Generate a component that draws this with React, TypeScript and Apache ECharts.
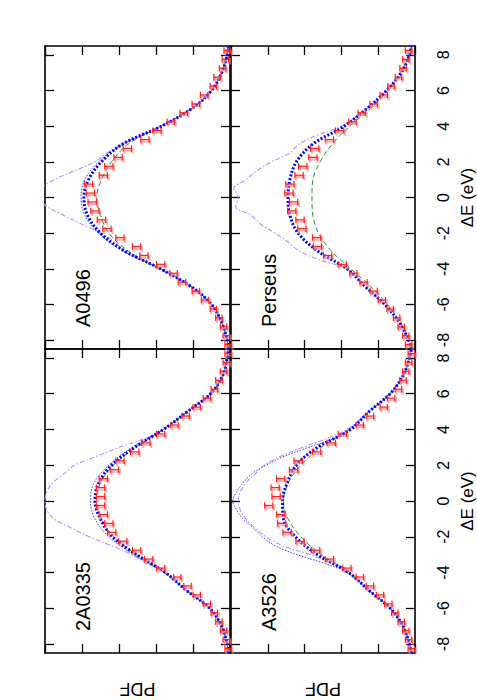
import React, { useEffect, useRef } from "react";
import * as echarts from "echarts";

// ΔE grids (eV)
const E_TICKS = [-8, -6, -4, -2, 0, 2, 4, 6, 8];
const E_INT = [-8.5, -8, -7, -6, -5, -4, -3, -2, -1, 0, 1, 2, 3, 4, 5, 6, 7, 8, 8.5];
const E_HALF = [-8.5, -8, -7, -6, -5, -4, -3.5, -3, -2.5, -2, -1.5, -1, -0.5, 0, 0.5, 1, 1.5, 2, 2.5, 3, 3.5, 4, 5, 6, 7, 8, 8.5];
const E_DATA = [-8.25, -7.75, -7.25, -6.75, -6.25, -5.75, -5.25, -4.75, -4.25, -3.75, -3.25, -2.75, -2.25, -1.75, -1.25, -0.75, -0.25,
  0.25, 0.75, 1.25, 1.75, 2.25, 2.75, 3.25, 3.75, 4.25, 4.75, 5.25, 5.75, 6.25, 6.75, 7.25, 7.75, 8.25];
const DATA_ERR = [0.0035, 0.0035, 0.0035, 0.0035, 0.0035, 0.004, 0.004, 0.004, 0.004, 0.0045, 0.0045, 0.0045, 0.0045, 0.0045, 0.0045, 0.0045, 0.0045,
  0.0045, 0.0045, 0.0045, 0.0045, 0.0045, 0.0045, 0.0045, 0.0045, 0.004, 0.004, 0.004, 0.004, 0.0035, 0.0035, 0.0035, 0.0035, 0.0035];

// PDF axis
const PDF_MAX = 0.2;
const PDF_STEP = 0.04;

// A0496
const A0496_BLUE = [0.002, 0.003, 0.009, 0.020, 0.042, 0.075, 0.114, 0.140, 0.154, 0.158, 0.153, 0.139, 0.116, 0.074, 0.041, 0.020, 0.009, 0.003, 0.002];
const A0496_BLUE_THIN = [0.002, 0.003, 0.009, 0.020, 0.042, 0.075, 0.116, 0.142, 0.157, 0.161, 0.157, 0.142, 0.116, 0.074, 0.041, 0.020, 0.009, 0.003, 0.002];
const A0496_GREEN = [0.002, 0.003, 0.009, 0.020, 0.042, 0.077, 0.110, 0.131, 0.140, 0.144, 0.139, 0.128, 0.110, 0.075, 0.041, 0.020, 0.009, 0.003, 0.002];
const A0496_PURPLE = [0.002, 0.003, 0.009, 0.020, 0.042, 0.075, 0.095, 0.115, 0.124, 0.140, 0.160, 0.180, 0.198, 0.206, 0.204, 0.190, 0.168, 0.146, 0.133, 0.115, 0.096, 0.075, 0.041, 0.020, 0.009, 0.003, 0.002];
const A0496_DATA = [0.002, 0.004, 0.007, 0.012, 0.018, 0.027, 0.037, 0.052, 0.061, 0.075, 0.093, 0.101, 0.119, 0.133, 0.139, 0.146, 0.149,
  0.151, 0.153, 0.137, 0.131, 0.121, 0.111, 0.092, 0.079, 0.064, 0.050, 0.037, 0.028, 0.018, 0.014, 0.008, 0.005, 0.003];

// Perseus
const PERSEUS_BLUE = [0.004, 0.007, 0.017, 0.033, 0.054, 0.074, 0.106, 0.127, 0.136, 0.138, 0.136, 0.129, 0.111, 0.077, 0.052, 0.031, 0.015, 0.006, 0.004];
const PERSEUS_GREEN = [0.004, 0.006, 0.016, 0.030, 0.048, 0.070, 0.091, 0.105, 0.111, 0.112, 0.111, 0.103, 0.090, 0.071, 0.048, 0.030, 0.016, 0.006, 0.004];
const PERSEUS_PURPLE = [0.004, 0.007, 0.017, 0.033, 0.054, 0.074, 0.104, 0.126, 0.138, 0.152, 0.168, 0.178, 0.195, 0.192, 0.197, 0.184, 0.172, 0.156, 0.136, 0.126, 0.106, 0.080, 0.052, 0.031, 0.015, 0.006, 0.004];
const PERSEUS_DATA = [0.007, 0.010, 0.015, 0.020, 0.027, 0.036, 0.045, 0.056, 0.067, 0.079, 0.095, 0.106, 0.107, 0.123, 0.125, 0.134, 0.132,
  0.137, 0.136, 0.126, 0.122, 0.111, 0.109, 0.093, 0.082, 0.068, 0.058, 0.045, 0.034, 0.026, 0.018, 0.013, 0.010, 0.007];

// 2A0335
const A2A0335_BLUE = [0.002, 0.003, 0.009, 0.022, 0.047, 0.070, 0.101, 0.127, 0.140, 0.146, 0.142, 0.128, 0.103, 0.072, 0.046, 0.021, 0.008, 0.003, 0.002];
const A2A0335_BLUE_THIN = [0.002, 0.003, 0.009, 0.022, 0.047, 0.071, 0.104, 0.131, 0.146, 0.151, 0.147, 0.131, 0.106, 0.072, 0.046, 0.021, 0.008, 0.003, 0.002];
const A2A0335_GREEN = [0.002, 0.003, 0.009, 0.022, 0.047, 0.071, 0.101, 0.126, 0.139, 0.144, 0.140, 0.126, 0.102, 0.072, 0.046, 0.021, 0.008, 0.003, 0.002];
const A2A0335_PURPLE = [0.002, 0.003, 0.010, 0.022, 0.047, 0.070, 0.090, 0.106, 0.128, 0.152, 0.172, 0.190, 0.198, 0.200, 0.198, 0.192, 0.180, 0.168, 0.144, 0.120, 0.092, 0.072, 0.046, 0.021, 0.008, 0.003, 0.002];
const A2A0335_DATA = [0.002, 0.004, 0.007, 0.012, 0.017, 0.025, 0.036, 0.046, 0.057, 0.075, 0.088, 0.101, 0.116, 0.128, 0.131, 0.137, 0.140,
  0.140, 0.140, 0.137, 0.125, 0.119, 0.103, 0.091, 0.075, 0.060, 0.048, 0.036, 0.025, 0.017, 0.012, 0.007, 0.004, 0.002];

// A3526
const A3526_BLUE = [0.004, 0.006, 0.013, 0.027, 0.050, 0.072, 0.106, 0.130, 0.143, 0.144, 0.139, 0.129, 0.106, 0.070, 0.050, 0.027, 0.013, 0.006, 0.004];
const A3526_GREEN = [0.004, 0.006, 0.013, 0.027, 0.050, 0.071, 0.102, 0.124, 0.138, 0.143, 0.138, 0.124, 0.102, 0.071, 0.050, 0.027, 0.013, 0.006, 0.004];
const A3526_BLUE_THIN = [0.004, 0.006, 0.013, 0.027, 0.050, 0.074, 0.098, 0.128, 0.152, 0.166, 0.176, 0.187, 0.194, 0.198, 0.194, 0.187, 0.178, 0.162, 0.142, 0.116, 0.088, 0.072, 0.050, 0.027, 0.013, 0.006, 0.004];
const A3526_PURPLE = [0.004, 0.006, 0.013, 0.027, 0.050, 0.074, 0.090, 0.114, 0.144, 0.162, 0.174, 0.184, 0.190, 0.192, 0.190, 0.184, 0.174, 0.164, 0.146, 0.122, 0.096, 0.074, 0.050, 0.027, 0.013, 0.006, 0.004];
const A3526_DATA = [0.004, 0.007, 0.010, 0.015, 0.022, 0.029, 0.038, 0.049, 0.060, 0.074, 0.093, 0.108, 0.125, 0.139, 0.145, 0.146, 0.159,
  0.151, 0.152, 0.146, 0.132, 0.127, 0.107, 0.091, 0.079, 0.060, 0.049, 0.034, 0.026, 0.018, 0.013, 0.010, 0.007, 0.004];

const PANEL_NAMES = ["A0496", "Perseus", "2A0335", "A3526"];

type Panel = {
  name: string;
  blue: number[];
  green: number[];
  purple: number[];
  blueThin: number[] | null;
  blueThinOnHalf: boolean;
  data: number[];
};

const PANELS: Panel[] = [
  { name: PANEL_NAMES[0], blue: A0496_BLUE, green: A0496_GREEN, purple: A0496_PURPLE, blueThin: A0496_BLUE_THIN, blueThinOnHalf: false, data: A0496_DATA },
  { name: PANEL_NAMES[1], blue: PERSEUS_BLUE, green: PERSEUS_GREEN, purple: PERSEUS_PURPLE, blueThin: null, blueThinOnHalf: false, data: PERSEUS_DATA },
  { name: PANEL_NAMES[2], blue: A2A0335_BLUE, green: A2A0335_GREEN, purple: A2A0335_PURPLE, blueThin: A2A0335_BLUE_THIN, blueThinOnHalf: false, data: A2A0335_DATA },
  { name: PANEL_NAMES[3], blue: A3526_BLUE, green: A3526_GREEN, purple: A3526_PURPLE, blueThin: A3526_BLUE_THIN, blueThinOnHalf: true, data: A3526_DATA },
];

const GRIDS = [
  { left: 45, top: 46, width: 185, height: 303 },
  { left: 231, top: 46, width: 188, height: 303 },
  { left: 45, top: 349, width: 185, height: 304 },
  { left: 231, top: 349, width: 188, height: 304 },
];

const FONT = "'Liberation Sans', Arial, Helvetica, sans-serif";

const pairs = (es: number[], vs: number[]) => vs.map((v, i) => [v, es[i]]);

function buildOption() {
  const xAxis: any[] = [];
  const yAxis: any[] = [];
  const series: any[] = [];
  const graphic: any[] = [];
  const lineCommon = { color: "#000", width: 1.6 };

  GRIDS.forEach((g, gi) => {
    const isRight = gi % 2 === 1;
    const isBottom = gi >= 2;
    ["bottom", "top"].forEach((pos) => {
      xAxis.push({
        gridIndex: gi,
        type: "value",
        position: pos,
        min: 0,
        max: PDF_MAX,
        interval: PDF_STEP,
        inverse: true,
        axisLine: { show: true, onZero: false, lineStyle: lineCommon },
        axisTick: { show: true, inside: true, length: 9, lineStyle: { color: "#000", width: 1.3 } },
        axisLabel: { show: false },
        splitLine: { show: false },
        name: pos === "bottom" && isBottom ? "PDF" : "",
        nameLocation: "middle",
        nameRotate: 180,
        nameGap: 27,
        nameTextStyle: { fontFamily: FONT, fontSize: 18, color: "#000" },
      });
    });
    ["left", "right"].forEach((pos) => {
      const showLab = pos === "right" && isRight;
      yAxis.push({
        gridIndex: gi,
        type: "value",
        position: pos,
        min: -8.5,
        max: 8.5,
        axisLine: { show: true, onZero: false, lineStyle: lineCommon },
        axisTick: { show: true, inside: true, length: 9, customValues: E_TICKS, lineStyle: { color: "#000", width: 1.3 } },
        axisLabel: {
          show: showLab,
          customValues: E_TICKS,
          rotate: 90,
          margin: 20,
          fontFamily: FONT,
          fontSize: 16,
          color: "#000",
        },
        splitLine: { show: false },
        name: showLab ? "ΔE (eV)" : "",
        nameLocation: "middle",
        nameRotate: 90,
        nameGap: 44,
        nameTextStyle: { fontFamily: FONT, fontSize: 17, color: "#000" },
      });
    });

    const p = PANELS[gi];
    const ax = { xAxisIndex: gi * 2, yAxisIndex: gi * 2 };
    series.push({
      type: "line", ...ax, name: p.name + " model (narrow)", data: pairs(E_HALF, p.purple), showSymbol: false, smooth: 0.35,
      lineStyle: { color: "#b890ff", width: 1.1, type: [5, 2, 1.5, 2] }, clip: true, z: 2,
    });
    if (p.blueThin) {
      series.push({
        type: "line", ...ax, name: p.name + " model (thin)", data: pairs(p.blueThinOnHalf ? E_HALF : E_INT, p.blueThin), showSymbol: false, smooth: 0.35,
        lineStyle: { color: "#3344ff", width: 1, type: [1.5, 1.5] }, clip: true, z: 3,
      });
    }
    series.push({
      type: "line", ...ax, name: p.name + " model (dashed)", data: pairs(E_INT, p.green), showSymbol: false, smooth: 0.35,
      lineStyle: { color: "#2e8b2e", width: 1, type: [5, 3] }, clip: true, z: 4,
    });
    series.push({
      type: "line", ...ax, name: p.name + " model", data: pairs(E_INT, p.blue), showSymbol: false, smooth: 0.35,
      lineStyle: { color: "#0000ff", width: 3, type: [2, 1.8] }, clip: true, z: 5,
    });
    series.push({
      type: "custom", ...ax, name: p.name + " data", coordinateSystem: "cartesian2d", z: 6,
      encode: { x: 0, y: 1 },
      data: p.data.map((v, i) => [v, E_DATA[i], DATA_ERR[i]]),
      renderItem: (params: any, api: any) => {
        const v = api.value(0);
        const e = api.value(1);
        const err = api.value(2);
        const a = api.coord([v - err, e]);
        const b = api.coord([v + err, e]);
        const cap = 3.2;
        const h = (dx: number, dy: number, stroke: string, w: number) => ({
          type: "group",
          children: [
            { type: "line", shape: { x1: a[0] + dx, y1: a[1] + dy, x2: b[0] + dx, y2: b[1] + dy }, style: { stroke, lineWidth: w } },
            { type: "line", shape: { x1: a[0] + dx, y1: a[1] + dy - cap, x2: a[0] + dx, y2: a[1] + dy + cap }, style: { stroke, lineWidth: w } },
            { type: "line", shape: { x1: b[0] + dx, y1: b[1] + dy - cap, x2: b[0] + dx, y2: b[1] + dy + cap }, style: { stroke, lineWidth: w } },
          ],
        });
        return {
          type: "group",
          children: [h(1.2, 2, "rgba(255,130,130,0.6)", 2.2), h(0, 0, "#ff2020", 1.2)],
        };
      },
    });

    graphic.push({
      type: "text",
      x: g.left + 38,
      y: g.top + g.height - 22,
      rotation: Math.PI / 2,
      style: {
        text: p.name,
        font: `20px ${FONT}`,
        fill: "#000",
        textAlign: "left",
        textVerticalAlign: "middle",
        align: "left",
        verticalAlign: "middle",
      },
      z: 10,
    });
  });

  return {
    animation: false,
    backgroundColor: "#fff",
    grid: GRIDS.map((g) => ({ ...g, containLabel: false })),
    xAxis,
    yAxis,
    series,
    graphic,
  };
}

export default function App() {
  const ref = useRef<HTMLDivElement>(null);
  useEffect(() => {
    if (!ref.current) return;
    const chart = echarts.init(ref.current, null, { renderer: "svg" });
    chart.setOption(buildOption() as any);
    return () => chart.dispose();
  }, []);
  return (
    <div
      ref={ref}
      style={{ position: "fixed", left: 0, top: 0, width: 477, height: 700, background: "#fff" }}
    />
  );
}
